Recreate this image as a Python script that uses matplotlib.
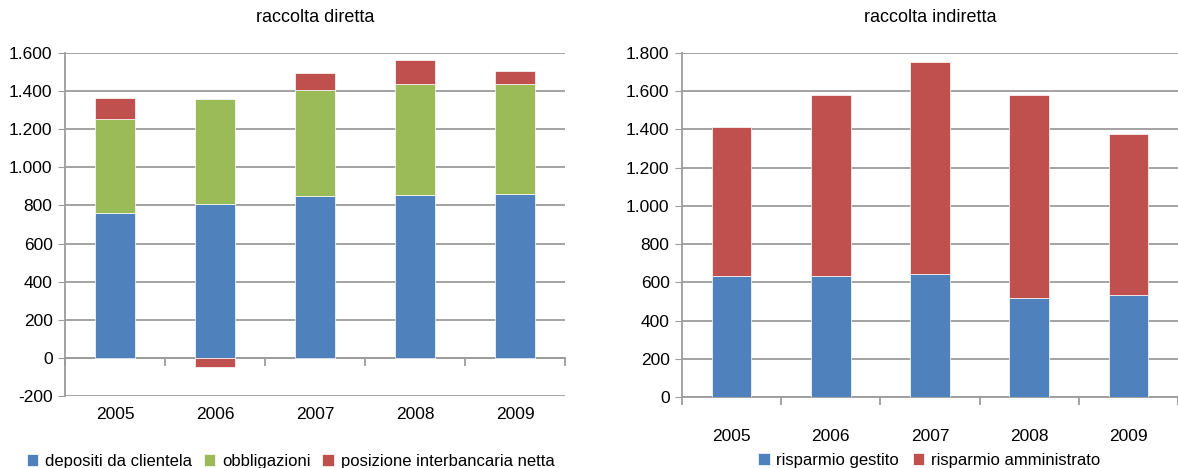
import matplotlib.pyplot as plt
from matplotlib.ticker import FuncFormatter
import numpy as np

plt.rcParams['font.family'] = ['Liberation Sans', 'DejaVu Sans']

anni = ["2005", "2006", "2007", "2008", "2009"]

# raccolta diretta
depositi = [762, 810, 848, 853, 858]
obbligazioni = [490, 548, 558, 585, 580]
interbancaria = [112, -47, 88, 125, 67]

# raccolta indiretta
gestito = [633, 633, 645, 518, 533]
amministrato = [780, 948, 1108, 1063, 842]

blu = '#4F81BD'
verde = '#9BBB59'
rosso = '#C0504D'
grigio = '#9C9C9C'

def fmt(v, pos):
    s = f"{abs(v):,.0f}".replace(',', '.')
    return '-' + s if v < 0 else s

def stile(ax, ymin, ymax, pad):
    ax.set_ylim(ymin, ymax)
    ax.set_xlim(-0.5, 4.5)
    ax.set_yticks(np.arange(ymin, ymax + 1, 200))
    ax.yaxis.set_major_formatter(FuncFormatter(fmt))
    ax.grid(axis='y', color=grigio, linewidth=1.3)
    ax.set_axisbelow(True)
    for s in ['top', 'right', 'bottom']:
        ax.spines[s].set_visible(False)
    ax.spines['left'].set_color(grigio)
    ax.spines['left'].set_linewidth(1.3)
    ax.tick_params(axis='y', length=5, color=grigio, labelsize=12.5, pad=4)
    ax.set_xticks(range(len(anni)))
    ax.set_xticklabels(anni)
    ax.tick_params(axis='x', length=0, labelsize=12.5, pad=pad)
    # asse a zero con tacche tra le categorie
    loc = (0 - ymin) / (ymax - ymin)
    sec = ax.secondary_xaxis(loc)
    sec.set_xticks(np.arange(-0.5, 5, 1))
    sec.set_xticklabels([])
    sec.spines['bottom'].set_color(grigio)
    sec.spines['bottom'].set_linewidth(1.3)
    sec.tick_params(length=6, color=grigio, width=1.3)

legenda = dict(loc='upper left', frameon=False, fontsize=12, handlelength=0.7,
               handleheight=0.7, handletextpad=0.4, borderaxespad=0)

fig = plt.figure(figsize=(11.78, 4.68), dpi=100)

ax1 = fig.add_axes([0.0552, 0.1538, 0.4244, 0.733])
x = np.arange(len(anni))
w = 0.4
ax1.bar(x, depositi, w, color=blu, edgecolor='white', linewidth=0.5, label='depositi da clientela')
ax1.bar(x, obbligazioni, w, bottom=depositi, color=verde, edgecolor='white', linewidth=0.5, label='obbligazioni')
base = [d + o if i >= 0 else 0 for d, o, i in zip(depositi, obbligazioni, interbancaria)]
ax1.bar(x, interbancaria, w, bottom=base, color=rosso, edgecolor='white', linewidth=0.5, label='posizione interbancaria netta')
stile(ax1, -200, 1600, 8)
ax1.set_title('raccolta diretta', fontsize=13, pad=22)
ax1.legend(bbox_to_anchor=(-0.09, -0.15), ncol=3, columnspacing=0.7, **legenda)

ax2 = fig.add_axes([0.579, 0.1517, 0.421, 0.7351])
ax2.bar(x, gestito, w, color=blu, edgecolor='white', linewidth=0.5, label='risparmio gestito')
ax2.bar(x, amministrato, w, bottom=gestito, color=rosso, edgecolor='white', linewidth=0.5, label='risparmio amministrato')
stile(ax2, 0, 1800, 23)
ax2.set_title('raccolta indiretta', fontsize=13, pad=22)
ax2.legend(bbox_to_anchor=(0.14, -0.143), ncol=2, columnspacing=0.8, **legenda)

fig.savefig('out.png', dpi=100)
